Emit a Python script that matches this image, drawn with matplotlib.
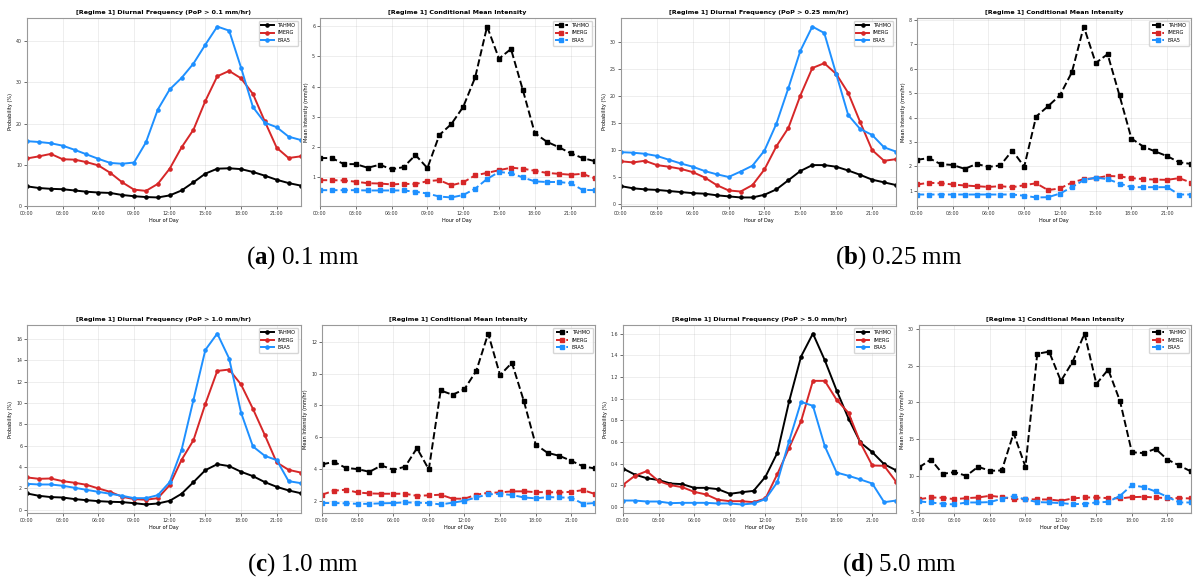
import numpy as np
import matplotlib
matplotlib.use('Agg')
import matplotlib.pyplot as plt

plt.rcParams['mathtext.fontset'] = 'custom'
plt.rcParams['mathtext.bf'] = 'Liberation Serif:bold'
plt.rcParams['mathtext.rm'] = 'Liberation Serif'

hours = np.arange(24)
tick_hours = np.arange(0, 24, 3)
tick_labels = ['%02d:00' % h for h in tick_hours]

# (a) 0.1 mm
freq_01_tahmo = [4.7, 4.3, 4.1, 4.0, 3.7, 3.4, 3.2, 3.1, 2.6, 2.3, 2.1, 2.0,
                 2.5, 3.7, 5.7, 7.8, 9.0, 9.1, 8.9, 8.2, 7.3, 6.3, 5.5, 4.9]
freq_01_imerg = [11.5, 12.0, 12.6, 11.3, 11.2, 10.6, 9.8, 8.0, 5.7, 3.9, 3.6, 5.3,
                 9.0, 14.2, 18.5, 25.5, 31.5, 32.8, 31.0, 27.2, 20.5, 14.1, 11.6, 12.0]
freq_01_era5 = [15.7, 15.5, 15.2, 14.6, 13.6, 12.5, 11.4, 10.4, 10.2, 10.5, 15.4, 23.4,
                28.3, 31.1, 34.6, 39.2, 43.6, 42.6, 33.6, 24.0, 20.2, 19.1, 16.8, 16.0]
int_01_tahmo = [1.64, 1.64, 1.44, 1.44, 1.32, 1.42, 1.27, 1.34, 1.74, 1.31, 2.40, 2.76,
                3.33, 4.30, 5.98, 4.92, 5.24, 3.88, 2.46, 2.18, 2.00, 1.80, 1.64, 1.54]
int_01_imerg = [0.91, 0.91, 0.90, 0.86, 0.81, 0.80, 0.77, 0.79, 0.78, 0.88, 0.91, 0.74,
                0.84, 1.07, 1.15, 1.24, 1.32, 1.29, 1.22, 1.15, 1.12, 1.09, 1.12, 0.97]
int_01_era5 = [0.58, 0.58, 0.58, 0.58, 0.57, 0.57, 0.57, 0.57, 0.53, 0.47, 0.37, 0.34,
               0.42, 0.63, 0.95, 1.18, 1.14, 1.00, 0.87, 0.85, 0.85, 0.81, 0.59, 0.58]

# (b) 0.25 mm
freq_025_tahmo = [3.3, 2.9, 2.7, 2.6, 2.4, 2.2, 2.0, 1.9, 1.6, 1.4, 1.2, 1.2,
                  1.7, 2.7, 4.4, 6.1, 7.2, 7.2, 6.9, 6.2, 5.4, 4.5, 4.0, 3.5]
freq_025_imerg = [7.9, 7.7, 8.0, 7.2, 6.9, 6.5, 5.9, 4.9, 3.5, 2.5, 2.3, 3.5,
                  6.4, 10.7, 14.1, 20.1, 25.2, 26.1, 24.1, 20.6, 15.2, 10.0, 8.0, 8.3]
freq_025_era5 = [9.6, 9.5, 9.3, 8.9, 8.2, 7.5, 6.9, 6.1, 5.5, 5.0, 6.0, 7.1,
                 9.9, 14.9, 21.5, 28.4, 32.9, 31.7, 24.1, 16.5, 13.9, 12.8, 10.5, 9.7]
int_025_tahmo = [2.27, 2.34, 2.09, 2.06, 1.90, 2.10, 1.98, 2.04, 2.65, 1.99, 4.04, 4.46,
                 4.91, 5.85, 7.72, 6.23, 6.59, 4.90, 3.14, 2.81, 2.61, 2.42, 2.17, 2.10]
int_025_imerg = [1.26, 1.33, 1.31, 1.26, 1.22, 1.19, 1.16, 1.19, 1.15, 1.23, 1.31, 1.03,
                 1.10, 1.34, 1.48, 1.52, 1.61, 1.59, 1.52, 1.48, 1.46, 1.45, 1.52, 1.34]
int_025_era5 = [0.85, 0.85, 0.85, 0.85, 0.85, 0.85, 0.85, 0.85, 0.85, 0.80, 0.73, 0.74,
                0.89, 1.15, 1.44, 1.54, 1.48, 1.30, 1.15, 1.15, 1.15, 1.15, 0.85, 0.85]

# (c) 1.0 mm
freq_1_tahmo = [1.53, 1.31, 1.19, 1.15, 1.00, 0.90, 0.81, 0.75, 0.72, 0.62, 0.50, 0.59,
                0.84, 1.50, 2.59, 3.71, 4.27, 4.09, 3.56, 3.15, 2.59, 2.15, 1.81, 1.56]
freq_1_imerg = [3.03, 2.90, 2.93, 2.68, 2.53, 2.34, 2.00, 1.68, 1.22, 1.00, 0.94, 1.09,
                2.31, 4.68, 6.52, 9.92, 13.0, 13.13, 11.73, 9.45, 6.99, 4.43, 3.74, 3.49]
freq_1_era5 = [2.43, 2.37, 2.37, 2.25, 2.06, 1.87, 1.68, 1.50, 1.31, 1.09, 1.09, 1.37,
               2.59, 5.61, 10.3, 14.97, 16.5, 14.16, 9.1, 5.93, 5.05, 4.65, 2.68, 2.50]
int_1_tahmo = [4.31, 4.48, 4.10, 4.02, 3.85, 4.25, 3.98, 4.17, 5.33, 4.00, 8.94, 8.67,
               9.02, 10.17, 12.5, 9.90, 10.67, 8.29, 5.56, 5.04, 4.85, 4.54, 4.19, 4.06]
int_1_imerg = [2.42, 2.67, 2.73, 2.56, 2.50, 2.48, 2.48, 2.48, 2.35, 2.38, 2.42, 2.17,
               2.17, 2.42, 2.54, 2.56, 2.63, 2.63, 2.58, 2.58, 2.56, 2.60, 2.71, 2.46]
int_1_era5 = [1.90, 1.90, 1.88, 1.85, 1.85, 1.88, 1.90, 1.94, 1.92, 1.90, 1.81, 1.92,
              2.04, 2.25, 2.44, 2.48, 2.40, 2.25, 2.19, 2.27, 2.25, 2.23, 1.85, 1.90]

# (d) 5.0 mm
freq_5_tahmo = [0.356, 0.300, 0.267, 0.250, 0.218, 0.212, 0.178, 0.178, 0.166, 0.123, 0.138, 0.150,
                0.280, 0.500, 0.977, 1.388, 1.600, 1.354, 1.075, 0.817, 0.596, 0.507, 0.396, 0.340]
freq_5_imerg = [0.206, 0.289, 0.332, 0.240, 0.203, 0.184, 0.141, 0.117, 0.068, 0.055, 0.055, 0.046,
                0.080, 0.304, 0.547, 0.792, 1.164, 1.164, 0.989, 0.869, 0.593, 0.384, 0.381, 0.236]
freq_5_era5 = [0.061, 0.061, 0.052, 0.052, 0.037, 0.040, 0.040, 0.040, 0.034, 0.034, 0.025, 0.034,
               0.074, 0.230, 0.611, 0.970, 0.934, 0.562, 0.319, 0.289, 0.255, 0.218, 0.046, 0.061]
int_5_tahmo = [11.13, 12.21, 10.26, 10.49, 9.99, 11.22, 10.67, 10.72, 15.80, 11.22, 26.6, 26.9,
               22.9, 25.55, 29.36, 22.5, 24.46, 20.15, 13.2, 13.08, 13.67, 12.21, 11.4, 10.58]
int_5_imerg = [6.81, 7.04, 7.00, 6.81, 6.95, 7.04, 7.27, 7.09, 6.81, 6.81, 6.77, 6.77,
               6.59, 6.91, 7.04, 7.04, 6.95, 6.91, 7.09, 7.13, 7.04, 6.95, 6.95, 6.91]
int_5_era5 = [6.50, 6.36, 6.18, 6.09, 6.36, 6.36, 6.41, 6.86, 7.22, 6.77, 6.41, 6.36,
              6.27, 6.13, 6.18, 6.36, 6.45, 7.27, 8.72, 8.45, 7.86, 7.13, 6.36, 6.36]

thresholds = ['0.1', '0.25', '1.0', '5.0']
captions = ['a', 'b', 'c', 'd']

panels = [
    (freq_01_tahmo, freq_01_imerg, freq_01_era5, int_01_tahmo, int_01_imerg, int_01_era5),
    (freq_025_tahmo, freq_025_imerg, freq_025_era5, int_025_tahmo, int_025_imerg, int_025_era5),
    (freq_1_tahmo, freq_1_imerg, freq_1_era5, int_1_tahmo, int_1_imerg, int_1_era5),
    (freq_5_tahmo, freq_5_imerg, freq_5_era5, int_5_tahmo, int_5_imerg, int_5_era5),
]

colors = {'TAHMO': 'black', 'IMERG': '#d62728', 'ERA5': '#1e90ff'}

# axes positions in pixels: (left, right) per column, (top, bottom) per row
W, H = 1200, 587
cols = [[(27, 300.5), (320, 594.5), (621, 896), (917, 1191)],
        [(27, 300.5), (322, 595), (623, 896), (919, 1191)]]
rows = [(18, 206), (325, 513)]
caption_y = [258, 565]
caption_x = [303, 899]

fig = plt.figure(figsize=(W / 100, H / 100), dpi=100)


def style_axes(ax, title, ylabel):
    ax.set_title(title, fontsize=4.6, fontweight='bold', pad=3)
    ax.set_xlabel('Hour of Day', fontsize=3.6, labelpad=1.5)
    ax.set_ylabel(ylabel, fontsize=3.6, labelpad=2)
    ax.set_xlim(0, 23)
    ax.set_xticks(tick_hours)
    ax.set_xticklabels(tick_labels)
    ax.tick_params(labelsize=3.4, length=2, width=0.5, pad=1.5, colors='#333333')
    ax.grid(True, alpha=0.3, linewidth=0.5)
    for s in ax.spines.values():
        s.set_color('#999999')
        s.set_linewidth(0.8)
    ax.legend(loc='upper right', fontsize=3.6, frameon=True, handlelength=2.5,
              borderpad=0.5, labelspacing=0.5, fancybox=True, framealpha=0.8)


for i, data in enumerate(panels):
    r, c = divmod(i, 2)
    top, bot = rows[r]
    y0 = 1 - bot / H
    h = (bot - top) / H
    (l1, r1), (l2, r2) = cols[r][2 * c], cols[r][2 * c + 1]
    ax1 = fig.add_axes([l1 / W, y0, (r1 - l1) / W, h])
    ax2 = fig.add_axes([l2 / W, y0, (r2 - l2) / W, h])

    for name, vals in zip(['TAHMO', 'IMERG', 'ERA5'], data[:3]):
        ax1.plot(hours, vals, '-o', color=colors[name], label=name,
                 linewidth=1.4, markersize=2.3)
    for name, vals in zip(['TAHMO', 'IMERG', 'ERA5'], data[3:]):
        ax2.plot(hours, vals, '--s', color=colors[name], label=name,
                 linewidth=1.4, markersize=2.5)

    style_axes(ax1, '[Regime 1] Diurnal Frequency (PoP > %s mm/hr)' % thresholds[i],
               'Probability (%)')
    style_axes(ax2, '[Regime 1] Conditional Mean Intensity', 'Mean Intensity (mm/hr)')

    fig.text(caption_x[c] / W, 1 - caption_y[r] / H,
             r'($\mathbf{%s}$) %s mm' % (captions[i], thresholds[i]),
             ha='center', va='center', fontsize=18, family='Liberation Serif')

fig.savefig('out.png', dpi=100)
